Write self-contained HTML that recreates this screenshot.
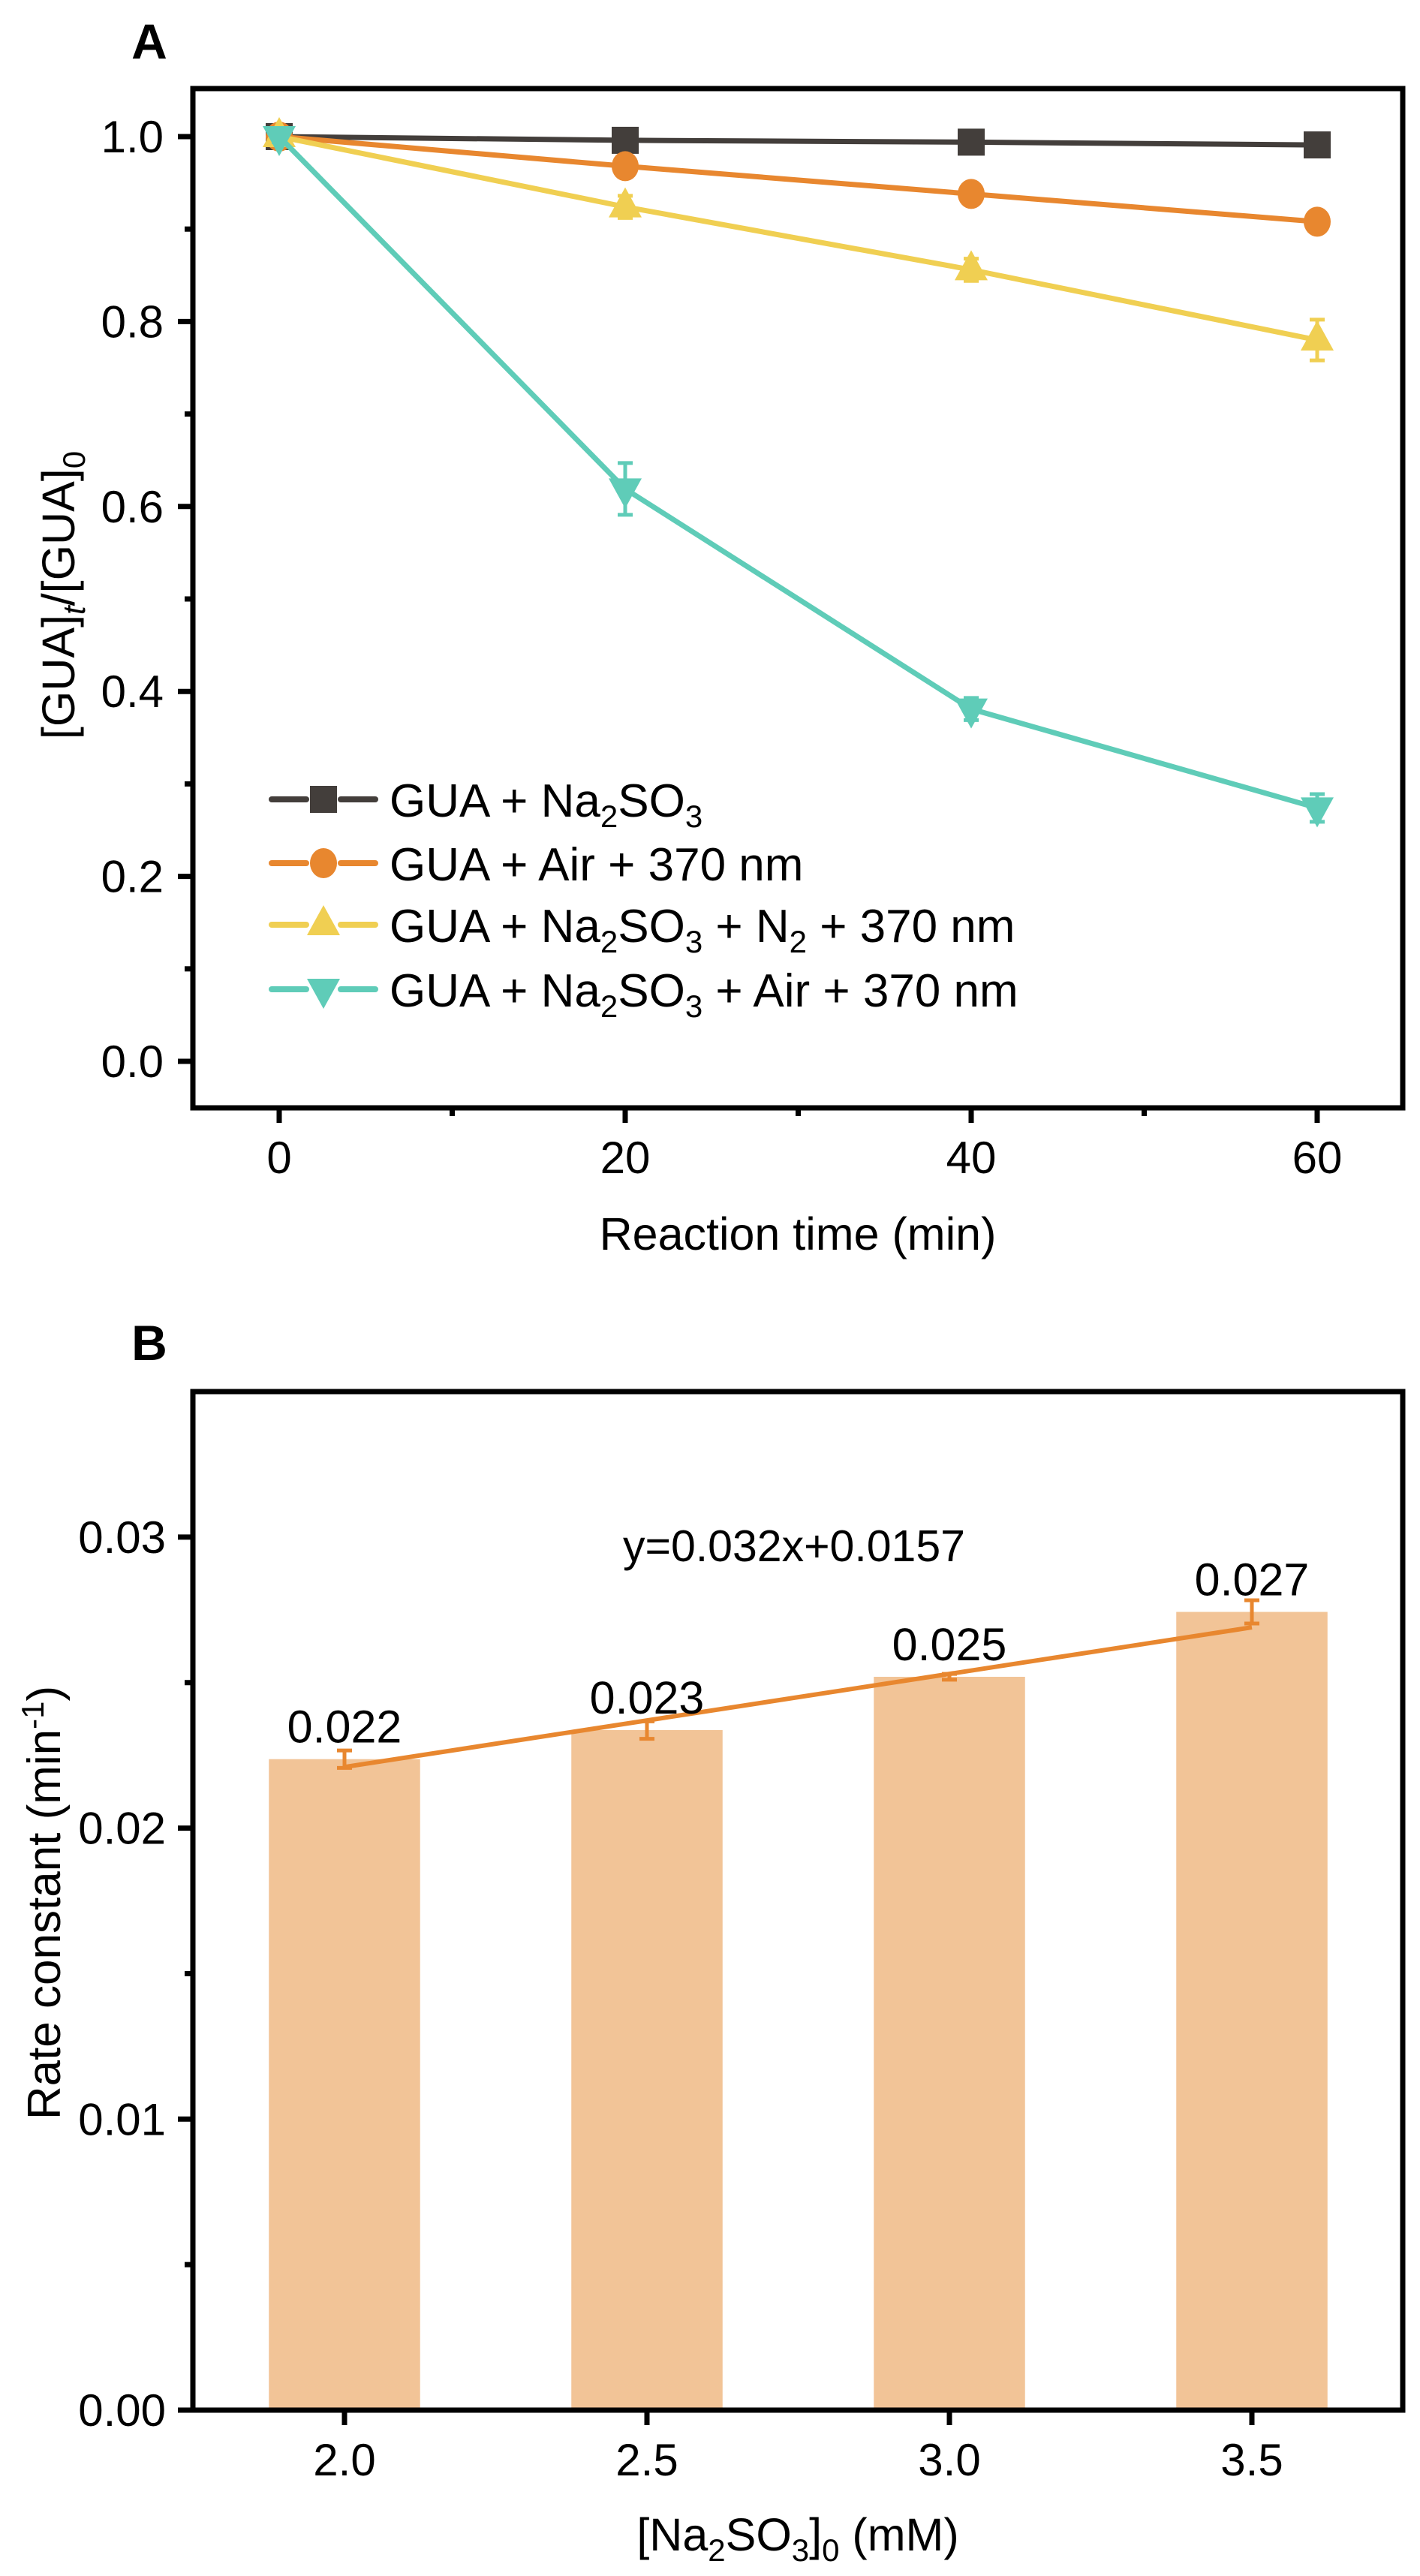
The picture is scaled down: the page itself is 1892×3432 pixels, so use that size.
<!DOCTYPE html>
<html><head><meta charset="utf-8"><style>
html,body{margin:0;padding:0;background:#fff}
svg{display:block}
text{font-family:"Liberation Sans",Arial,sans-serif;fill:#000}
</style></head><body>
<svg id="fig" width="1892" height="3432" viewBox="0 0 1892 3432" xmlns="http://www.w3.org/2000/svg">
<g id="panelA"></g>
<g id="panelB"></g>
</svg>
<script>
// ---- Panel A data ----
const timesA = [0, 20, 40, 60];
const seriesNames = ["GUA + Na2SO3", "GUA + Air + 370 nm", "GUA + Na2SO3 + N2 + 370 nm", "GUA + Na2SO3 + Air + 370 nm"];
const blackVals = [1.0, 0.996, 0.994, 0.991];
const orangeVals = [1.0, 0.968, 0.938, 0.908];
const yellowVals = [1.0, 0.924, 0.856, 0.780];
const tealVals = [1.0, 0.619, 0.381, 0.274];
const blackErr = [0.004, 0.008, 0.008, 0.008];
const orangeErr = [0.004, 0.008, 0.010, 0.010];
const yellowErr = [0.008, 0.012, 0.012, 0.022];
const tealErr = [0.006, 0.028, 0.012, 0.015];
const xTicksA = [0, 20, 40, 60];
const yTicksA = ["0.0", "0.2", "0.4", "0.6", "0.8", "1.0"];

// ---- Panel B data ----
const concB = [2.0, 2.5, 3.0, 3.5];
const rateB = [0.02237, 0.02337, 0.0252, 0.02743];
const rateErrB = [0.0003, 0.0003, 0.0001, 0.0004];
const rateLabelsB = ["0.022", "0.023", "0.025", "0.027"];
const fitSlope = 0.0032;
const fitIntercept = 0.0157;
const xTicksB = ["2.0", "2.5", "3.0", "3.5"];
const yTicksB = ["0.00", "0.01", "0.02", "0.03"];

const NS = "http://www.w3.org/2000/svg";
function mk(parent, tag, attrs, txt) {
  const e = document.createElementNS(NS, tag);
  for (const k in attrs) e.setAttribute(k, attrs[k]);
  if (txt !== undefined) e.textContent = txt;
  parent.appendChild(e);
  return e;
}
function subText(parent, x, y, parts, attrs) {
  const t = mk(parent, "text", Object.assign({x: x, y: y}, attrs));
  let shifted = false;
  parts.forEach(p => {
    const ts = mk(t, "tspan", {});
    ts.textContent = p[0];
    if (p[1] === "sub" && !shifted) { ts.setAttribute("dy", "14"); ts.setAttribute("font-size", "42"); shifted = true; }
    else if (p[1] === "sub") { ts.setAttribute("font-size", "42"); }
    else if (p[1] === "sup") { ts.setAttribute("dy", "-22"); ts.setAttribute("font-size", "42"); shifted = "sup"; }
    else if (shifted === true) { ts.setAttribute("dy", "-14"); shifted = false; }
    else if (shifted === "sup") { ts.setAttribute("dy", "22"); shifted = false; }
    if (p[2]) ts.setAttribute("font-style", "italic");
  });
  return t;
}

// ===== Panel A =====
(function(){
  const g = document.getElementById("panelA");
  const L = 257, R = 1869, T = 118, B = 1476;
  const xA = v => 372 + (v - 0) * (1755 - 372) / 60;
  const yA = v => 1414 - v * (1414 - 182);
  const lbl = mk(g, "text", {x: 199, y: 78, "font-size": 66, "font-weight": "bold", "text-anchor": "middle"}, "A");
  
  

  const ax = mk(g, "g", {stroke: "#000", "stroke-width": 7, fill: "none"});
  
  
  mk(ax, "rect", {x: L, y: T, width: R - L, height: B - T});
  xTicksA.forEach(v => mk(ax, "line", {x1: xA(v), x2: xA(v), y1: B, y2: B + 20}));
  [10, 30, 50].forEach(v => mk(ax, "line", {x1: xA(v), x2: xA(v), y1: B, y2: B + 11}));
  yTicksA.forEach(s => { const v = parseFloat(s); mk(ax, "line", {x1: L - 20, x2: L, y1: yA(v), y2: yA(v)}); });
  [0.1, 0.3, 0.5, 0.7, 0.9].forEach(v => mk(ax, "line", {x1: L - 11, x2: L, y1: yA(v), y2: yA(v)}));

  yTicksA.forEach(s => {
    const t = mk(g, "text", {x: 218, y: yA(parseFloat(s)) + 21, "font-size": 60, "text-anchor": "end"}, s);
    
    
  });
  xTicksA.forEach(v => {
    const t = mk(g, "text", {x: xA(v), y: 1563, "font-size": 60, "text-anchor": "middle"}, String(v));
    
    
  });
  const xt = mk(g, "text", {x: 1063, y: 1665, "font-size": 61, "text-anchor": "middle"}, "Reaction time (min)");
  
  
  const yt = subText(g, 0, 0, [["[GUA]"], ["t", "sub", true], ["/[GUA]"], ["0", "sub"]], {"font-size": 61, "text-anchor": "middle", transform: "translate(99,793) rotate(-90)"});
  
  

  const colors = ["#433e3b", "#e8872f", "#f0cf52", "#5fccb8"];
  const vals = [blackVals, orangeVals, yellowVals, tealVals];
  const errs = [blackErr, orangeErr, yellowErr, tealErr];
  const shapes = ["square", "circle", "tri-up", "tri-down"];
  function marker(p, shape, cx, cy, c) {
    if (shape === "square") return mk(p, "rect", {x: cx - 18, y: cy - 18, width: 36, height: 36, fill: c});
    if (shape === "circle") return mk(p, "ellipse", {cx: cx, cy: cy, rx: 18, ry: 20, fill: c});
    if (shape === "tri-up") return mk(p, "polygon", {points: `${cx},${cy-26} ${cx+22},${cy+14} ${cx-22},${cy+14}`, fill: c});
    return mk(p, "polygon", {points: `${cx-22},${cy-14} ${cx+22},${cy-14} ${cx},${cy+26}`, fill: c});
  }
  const keys = ["black", "orange", "yellow", "teal"];
  vals.forEach((arr, si) => {
    const sg = mk(g, "g", {});
    
    
    const pts = arr.map((v, i) => xA(timesA[i]) + "," + yA(v)).join(" ");
    mk(sg, "polyline", {points: pts, fill: "none", stroke: colors[si], "stroke-width": 7});
    arr.forEach((v, i) => {
      const x = xA(timesA[i]);
      const e = errs[si][i];
      mk(sg, "line", {x1: x, x2: x, y1: yA(v + e), y2: yA(v - e), stroke: colors[si], "stroke-width": 5});
      mk(sg, "line", {x1: x - 10, x2: x + 10, y1: yA(v + e), y2: yA(v + e), stroke: colors[si], "stroke-width": 5});
      mk(sg, "line", {x1: x - 10, x2: x + 10, y1: yA(v - e), y2: yA(v - e), stroke: colors[si], "stroke-width": 5});
      const m = marker(sg, shapes[si], x, yA(v), colors[si]);
      
      
    });
  });

  const rows = [1065, 1150, 1232, 1318];
  const legParts = [
    [["GUA + Na"], ["2", "sub"], ["SO"], ["3", "sub"]],
    [["GUA + Air + 370 nm"]],
    [["GUA + Na"], ["2", "sub"], ["SO"], ["3", "sub"], [" + N"], ["2", "sub"], [" + 370 nm"]],
    [["GUA + Na"], ["2", "sub"], ["SO"], ["3", "sub"], [" + Air + 370 nm"]]
  ];
  rows.forEach((y, i) => {
    const lg = mk(g, "g", {});
    
    
    mk(lg, "line", {x1: 362, x2: 408, y1: y, y2: y, stroke: colors[i], "stroke-width": 8, "stroke-linecap": "round"});
    mk(lg, "line", {x1: 454, x2: 500, y1: y, y2: y, stroke: colors[i], "stroke-width": 8, "stroke-linecap": "round"});
    marker(lg, shapes[i], 431, y, colors[i]);
    subText(lg, 519, y + 23, legParts[i], {"font-size": 62});
  });
})();

// ===== Panel B =====
(function(){
  const g = document.getElementById("panelB");
  const L = 257, R = 1869, T = 1854, B = 3211;
  const xB = v => 459 + (v - 2.0) * (1668 - 459) / 1.5;
  const yB = v => B - v * 38770;
  const lbl = mk(g, "text", {x: 199, y: 1812, "font-size": 66, "font-weight": "bold", "text-anchor": "middle"}, "B");
  
  

  const barW = (xB(2.25) - xB(2.0));
  concB.forEach((c, i) => {
    const r = mk(g, "rect", {x: xB(c) - barW / 2, y: yB(rateB[i]), width: barW, height: B - yB(rateB[i]), fill: "#f2c497"});
    
    
  });

  const ax = mk(g, "g", {stroke: "#000", "stroke-width": 7, fill: "none"});
  
  
  mk(ax, "rect", {x: L, y: T, width: R - L, height: B - T});
  concB.forEach(v => mk(ax, "line", {x1: xB(v), x2: xB(v), y1: B, y2: B + 20}));
  yTicksB.forEach(s => { const v = parseFloat(s); mk(ax, "line", {x1: L - 20, x2: L, y1: yB(v), y2: yB(v)}); });
  [0.005, 0.015, 0.025].forEach(v => mk(ax, "line", {x1: L - 11, x2: L, y1: yB(v), y2: yB(v)}));

  yTicksB.forEach(s => {
    const t = mk(g, "text", {x: 221, y: yB(parseFloat(s)) + 21, "font-size": 60, "text-anchor": "end"}, s);
    
    
  });
  xTicksB.forEach((s, i) => {
    const t = mk(g, "text", {x: xB(concB[i]), y: 3298, "font-size": 60, "text-anchor": "middle"}, s);
    
    
  });
  const xt = subText(g, 1063, 3398, [["[Na"], ["2", "sub"], ["SO"], ["3", "sub"], ["]"], ["0", "sub"], [" (mM)"]], {"font-size": 61, "text-anchor": "middle"});
  
  
  const yt = subText(g, 0, 0, [["Rate constant (min"], ["-1", "sup"], [")"]], {"font-size": 62, "text-anchor": "middle", transform: "translate(80,2535) rotate(-90)"});
  
  

  const fit = mk(g, "line", {x1: xB(concB[0]), y1: yB(fitSlope * concB[0] + fitIntercept), x2: xB(concB[3]), y2: yB(fitSlope * concB[3] + fitIntercept), stroke: "#e8872f", "stroke-width": 6});
  
  
  concB.forEach((c, i) => {
    const x = xB(c), v = rateB[i], e = rateErrB[i];
    const eg = mk(g, "g", {stroke: "#e8872f", "stroke-width": 5});
    
    
    mk(eg, "line", {x1: x, x2: x, y1: yB(v + e), y2: yB(v - e)});
    mk(eg, "line", {x1: x - 10, x2: x + 10, y1: yB(v + e), y2: yB(v + e)});
    mk(eg, "line", {x1: x - 10, x2: x + 10, y1: yB(v - e), y2: yB(v - e)});
    const t = mk(g, "text", {x: x, y: yB(v) - 22, "font-size": 61, "text-anchor": "middle"}, rateLabelsB[i]);
    
    
  });
  const eq = mk(g, "text", {x: 1058, y: 2080, "font-size": 59, "text-anchor": "middle"}, "y=0.032x+0.0157");
  
  
})();
</script>
</body></html>
